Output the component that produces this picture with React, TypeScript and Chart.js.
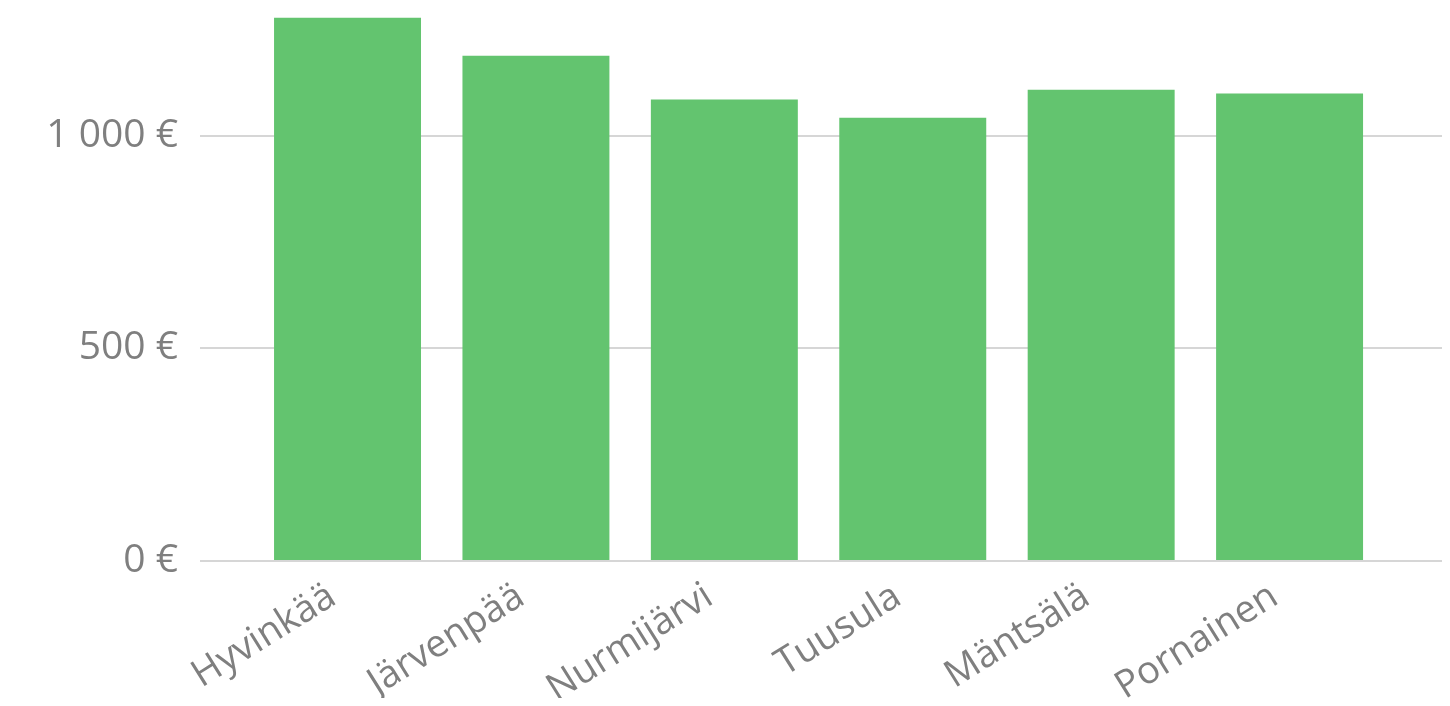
import React, { useEffect, useRef } from "react";
import { Chart, registerables } from "chart.js";

Chart.register(...registerables);

const categories = ["Hyvinkää", "Järvenpää", "Nurmijärvi", "Tuusula", "Mäntsälä", "Pornainen"];
const values = [1277, 1188, 1085, 1042, 1108, 1099];
const yTicks = [0, 500, 1000];

const formatEuro = (v: number) => {
  if (v >= 1000) {
    return `${Math.floor(v / 1000)} ${String(v % 1000).padStart(3, "0")} €`;
  }
  return `${v} €`;
};

export default function App() {
  const ref = useRef<HTMLCanvasElement | null>(null);
  useEffect(() => {
    if (!ref.current) return;
    const family = "'Open Sans', 'Noto Sans', sans-serif";
    const chart = new Chart(ref.current, {
      type: "bar",
      data: {
        datasets: [
          {
            data: values.map((v, i) => ({ x: i, y: v })),
            backgroundColor: "#63c46f",
            borderWidth: 0,
            categoryPercentage: 1,
            barPercentage: 0.78,
          },
        ],
      },
      options: {
        animation: false,
        responsive: false,
        maintainAspectRatio: false,
        layout: { padding: 0 },
        plugins: { legend: { display: false }, tooltip: { enabled: false } },
        scales: {
          x: {
            type: "linear",
            offset: false,
            min: -0.783,
            max: 5.809,
            grid: { display: false, offset: false },
            border: { display: false },
            afterBuildTicks: (scale: any) => {
              scale.ticks = categories.map((_, i) => ({ value: i }));
            },
            afterFit: (scale: any) => {
              scale.height = 137;
              scale.paddingLeft = 0;
              scale.paddingRight = 0;
              scale.paddingTop = 0;
              scale.paddingBottom = 0;
            },
            ticks: {
              autoSkip: false,
              minRotation: 32,
              maxRotation: 32,
              padding: 5,
              labelOffset: -15,
              color: "#7f7f7f",
              font: { family, size: 38 },
              callback: (v: any) => categories[v] ?? "",
            },
          },
          y: {
            min: 0,
            max: 1300,
            afterBuildTicks: (scale: any) => {
              scale.ticks = yTicks.map((v) => ({ value: v }));
            },
            afterFit: (scale: any) => {
              scale.width = 192;
              scale.paddingTop = 0;
              scale.paddingBottom = 0;
              scale.paddingLeft = 0;
              scale.paddingRight = 0;
            },
            border: { display: false },
            grid: { color: "#d6d6d6", lineWidth: 2, drawTicks: false },
            ticks: {
              padding: 22,
              color: "#7f7f7f",
              font: { family, size: 39 },
              callback: (v: any) => formatEuro(Number(v)),
            },
          },
        },
      },
    } as any);
    return () => chart.destroy();
  }, []);
  return (
    <div style={{ width: 1434, height: 690 }}>
      <canvas ref={ref} width={1434} height={690} style={{ display: "block", width: 1434, height: 690 }} />
    </div>
  );
}
